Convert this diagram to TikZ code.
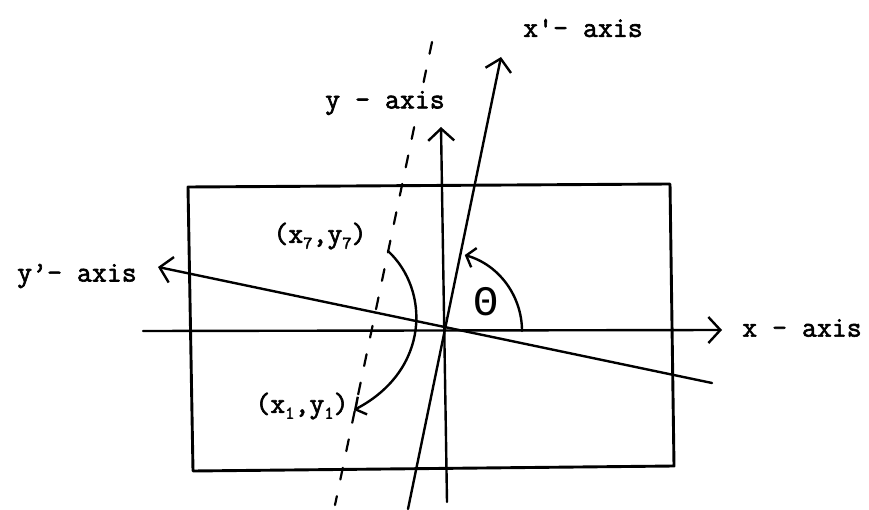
\documentclass[tikz,border=0pt]{standalone}
\usepackage{fontspec}
\setmonofont{Latin Modern Mono}[AutoFakeBold=2.2]
\usetikzlibrary{arrows.meta}
\begin{document}
\begin{tikzpicture}[x=1pt,y=-1pt,line cap=round,line join=round,
  axisline/.style={line width=2.4pt,-{Straight Barb[length=12pt,width=26pt,line width=2.4pt]}},
  turnline/.style={line width=2.4pt,-{Straight Barb[length=8pt,width=20pt,line width=2.4pt]}},
  frame/.style={line width=2.9pt},
  dashline/.style={line width=2.2pt,dash pattern=on 12pt off 17pt},
  lbl/.style={font=\ttfamily\bfseries\fontsize{29}{30}\selectfont,inner sep=0pt},
  thetalbl/.style={font=\fontspec{Liberation Mono}\fontsize{42}{44}\selectfont,inner sep=0pt}]
\useasboundingbox (0,0) rectangle (869,510);
\fill[white] (0,0) rectangle (869,510);
% frame
\coordinate (r1) at (188,187);
\coordinate (r2) at (670,184);
\coordinate (r3) at (674,466);
\coordinate (r4) at (193,471);
\draw[frame] (r1) -- (r2) -- (r3) -- (r4) -- cycle;
% axes
\coordinate (O) at (443,331);
\coordinate (xs) at (143,331);
\coordinate (xe) at (722,330);
\coordinate (ys) at (447,502);
\coordinate (ye) at (441,127);
\coordinate (xps) at (408,509);
\coordinate (xpe) at (501,57);
\coordinate (yps) at (712,383);
\coordinate (ype) at (158,267);
\coordinate (dt) at (432,42);
\coordinate (db) at (335,505);
\draw[dashline] (dt) -- (db);
\draw[axisline] (xs) -- (xe);
\draw[axisline] (ys) -- (ye);
\draw[axisline] (xps) -- (xpe);
\draw[axisline] (yps) -- (ype);
% rotation arc
\coordinate (a1) at (388,251);
\coordinate (a2) at (354,410);
\draw[turnline] (a1) .. controls (430,290) and (430,370) .. (a2);
% theta arc
\coordinate (t1) at (522,331);
\draw[turnline] (t1) arc[start angle=0,end angle=-74,radius=79];
% labels
\node[lbl] (lxp) at (583,28) {x'- axis};
\node[lbl,fill=white,inner sep=3pt] (ly) at (385,103) {y - axis};
\node[lbl] (lyp) at (77,276) {y’- axis};
\node[lbl] (lx) at (802,328) {x - axis};
\node[lbl] (p7) at (320,236) {(x\raisebox{-6pt}{\fontsize{18}{18}\selectfont 7},y\raisebox{-6pt}{\fontsize{18}{18}\selectfont 7})};
\node[lbl] (p1) at (302,406) {(x\raisebox{-6pt}{\fontsize{18}{18}\selectfont 1},y\raisebox{-6pt}{\fontsize{18}{18}\selectfont 1})};
\node[thetalbl] (th) at (486,302) {Θ};
\end{tikzpicture}
\end{document}
